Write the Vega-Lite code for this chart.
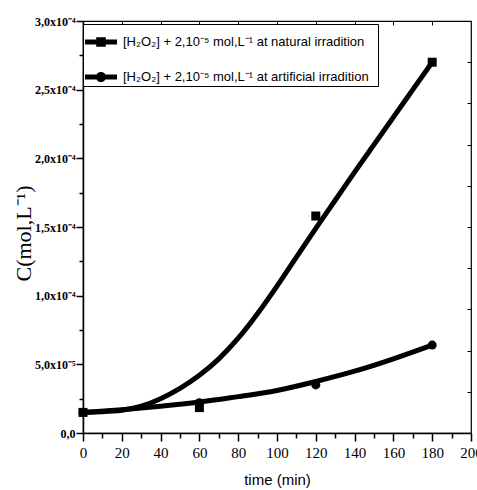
{
  "$schema": "https://vega.github.io/schema/vega-lite/v6.json",
  "autosize": "none",
  "padding": {"left": 83, "top": 21, "right": 6, "bottom": 57},
  "width": 388,
  "height": 412,
  "background": "white",
  "datasets": {
    "curves": [
      {"series": "natural", "t": 0, "c": 1.5e-5},
      {"series": "natural", "t": 10, "c": 1.55e-5},
      {"series": "natural", "t": 20, "c": 1.65e-5},
      {"series": "natural", "t": 30, "c": 1.95e-5},
      {"series": "natural", "t": 40, "c": 2.5e-5},
      {"series": "natural", "t": 50, "c": 3.25e-5},
      {"series": "natural", "t": 60, "c": 4.2e-5},
      {"series": "natural", "t": 70, "c": 5.4e-5},
      {"series": "natural", "t": 80, "c": 6.9e-5},
      {"series": "natural", "t": 90, "c": 8.7e-5},
      {"series": "natural", "t": 100, "c": 1.07e-4},
      {"series": "natural", "t": 110, "c": 1.28e-4},
      {"series": "natural", "t": 120, "c": 1.49e-4},
      {"series": "natural", "t": 130, "c": 1.695e-4},
      {"series": "natural", "t": 140, "c": 1.9e-4},
      {"series": "natural", "t": 150, "c": 2.1e-4},
      {"series": "natural", "t": 160, "c": 2.3e-4},
      {"series": "natural", "t": 170, "c": 2.5e-4},
      {"series": "natural", "t": 180, "c": 2.7e-4},
      {"series": "artificial", "t": 0, "c": 1.5e-5},
      {"series": "artificial", "t": 20, "c": 1.7e-5},
      {"series": "artificial", "t": 40, "c": 1.95e-5},
      {"series": "artificial", "t": 60, "c": 2.25e-5},
      {"series": "artificial", "t": 80, "c": 2.65e-5},
      {"series": "artificial", "t": 100, "c": 3.1e-5},
      {"series": "artificial", "t": 120, "c": 3.75e-5},
      {"series": "artificial", "t": 140, "c": 4.5e-5},
      {"series": "artificial", "t": 160, "c": 5.4e-5},
      {"series": "artificial", "t": 180, "c": 6.4e-5}
    ],
    "points": [
      {"set": "natural", "t": 0, "c": 1.5e-5},
      {"set": "natural", "t": 60, "c": 1.85e-5},
      {"set": "natural", "t": 120, "c": 1.58e-4},
      {"set": "natural", "t": 180, "c": 2.7e-4},
      {"set": "artificial", "t": 0, "c": 1.5e-5},
      {"set": "artificial", "t": 60, "c": 2.2e-5},
      {"set": "artificial", "t": 120, "c": 3.5e-5},
      {"set": "artificial", "t": 180, "c": 6.4e-5}
    ]
  },
  "config": {
    "view": {"stroke": "black", "strokeWidth": 1.2},
    "axis": {
      "grid": false,
      "domainColor": "black",
      "domainWidth": 1.5,
      "tickColor": "black",
      "tickWidth": 1.5,
      "labelColor": "black",
      "titleColor": "black",
      "labelOverlap": false,
      "labelFlush": false
    }
  },
  "layer": [
    {
      "data": {"name": "curves"},
      "mark": {"type": "line", "interpolate": "natural", "strokeWidth": 5, "strokeCap": "butt"},
      "encoding": {
        "x": {
          "field": "t", "type": "quantitative",
          "scale": {"domain": [0, 200], "nice": false},
          "axis": {
            "orient": "bottom",
            "values": [0,10,20,30,40,50,60,70,80,90,100,110,120,130,140,150,160,170,180,190,200],
            "labelExpr": "datum.value % 20 == 0 ? datum.value : ''",
            "tickSize": {"condition": {"test": "datum.value % 20 != 0", "value": 5}, "value": 8},
            "labelFont": "Liberation Serif",
            "labelFontSize": 15,
            "labelPadding": 4,
            "title": "time (min)",
            "titleFont": "Liberation Sans",
            "titleFontSize": 15,
            "titleFontWeight": "normal",
            "titlePadding": 12
          }
        },
        "y": {
          "field": "c", "type": "quantitative",
          "scale": {"domain": [0, 0.0003], "nice": false},
          "axis": {
            "orient": "left",
            "values": [0, 0.000025, 0.00005, 0.000075, 0.0001, 0.000125, 0.00015, 0.000175, 0.0002, 0.000225, 0.00025, 0.000275, 0.0003],
            "labelExpr": "round(datum.value*1e6) % 50 != 0 ? '' : (datum.value == 0 ? '0,0' : (datum.value < 0.00009 ? '5,0x10⁻⁵' : replace(format(datum.value*1e4, '.1f'), '.', ',') + 'x10⁻⁴'))",
            "tickSize": {"condition": {"test": "round(datum.value*1e6) % 50 != 0", "value": 4}, "value": 7},
            "labelFont": "Liberation Serif",
            "labelFontSize": 12,
            "labelFontWeight": "bold",
            "labelPadding": 1,
            "title": "C(mol,L⁻¹)",
            "titleFont": "Liberation Serif",
            "titleFontSize": 22,
            "titleFontWeight": "normal",
            "titleX": -48,
            "titleY": 212
          }
        },
        "color": {
          "field": "series", "type": "nominal",
          "scale": {"domain": ["natural", "artificial"], "range": ["black", "black"]},
          "legend": {
            "orient": "none",
            "legendX": 0,
            "legendY": 3,
            "title": null,
            "strokeColor": "black",
            "fillColor": "white",
            "padding": 2,
            "symbolSize": 1024,
            "rowPadding": 12,
            "labelOffset": 6,
            "labelFont": "Liberation Sans",
            "labelFontSize": 13,
            "labelColor": "black",
            "labelLimit": 400,
            "labelExpr": "datum.value == 'natural' ? '[H₂O₂] + 2,10⁻⁵ mol,L⁻¹  at natural  irradition' : '[H₂O₂] + 2,10⁻⁵ mol,L⁻¹  at artificial  irradition'",
            "encode": {
              "symbols": {
                "update": {
                  "shape": {"signal": "datum.value == 'natural' ? 'M-1,-0.16H1V0.16H-1Z M-0.3,-0.3H0.3V0.3H-0.3Z' : 'M-1,-0.16H1V0.16H-1Z M0.32,0A0.32,0.32 0 1,1 -0.32,0A0.32,0.32 0 1,1 0.32,0Z'"},
                  "fill": {"value": "black"},
                  "fillOpacity": {"value": 1},
                  "stroke": {"value": "black"},
                  "strokeWidth": {"value": 0}
                }
              }
            }
          }
        }
      }
    },
    {
      "data": {"name": "points"},
      "transform": [{"filter": "datum.set == 'natural'"}],
      "mark": {"type": "point", "filled": true, "opacity": 1, "color": "black", "size": 81, "shape": "square"},
      "encoding": {
        "x": {
          "field": "t", "type": "quantitative",
          "axis": {
            "orient": "top",
            "values": [20,40,60,80,100,120,140,160,180],
            "labels": false,
            "domain": false,
            "tickSize": -4,
            "tickWidth": 1,
            "title": null
          }
        },
        "y": {
          "field": "c", "type": "quantitative",
          "axis": {
            "orient": "right",
            "values": [0.00003, 0.00006, 0.00009, 0.00012, 0.00015, 0.00018, 0.00021, 0.00024, 0.00027],
            "labels": false,
            "domain": false,
            "tickSize": -4,
            "tickWidth": 1,
            "title": null
          }
        }
      }
    },
    {
      "data": {"name": "points"},
      "transform": [{"filter": "datum.set == 'artificial'"}],
      "mark": {"type": "point", "filled": true, "opacity": 1, "color": "black", "size": 81, "shape": "circle"},
      "encoding": {
        "x": {"field": "t", "type": "quantitative", "axis": null},
        "y": {"field": "c", "type": "quantitative", "axis": null}
      }
    }
  ],
  "resolve": {"axis": {"x": "independent", "y": "independent"}}
}
